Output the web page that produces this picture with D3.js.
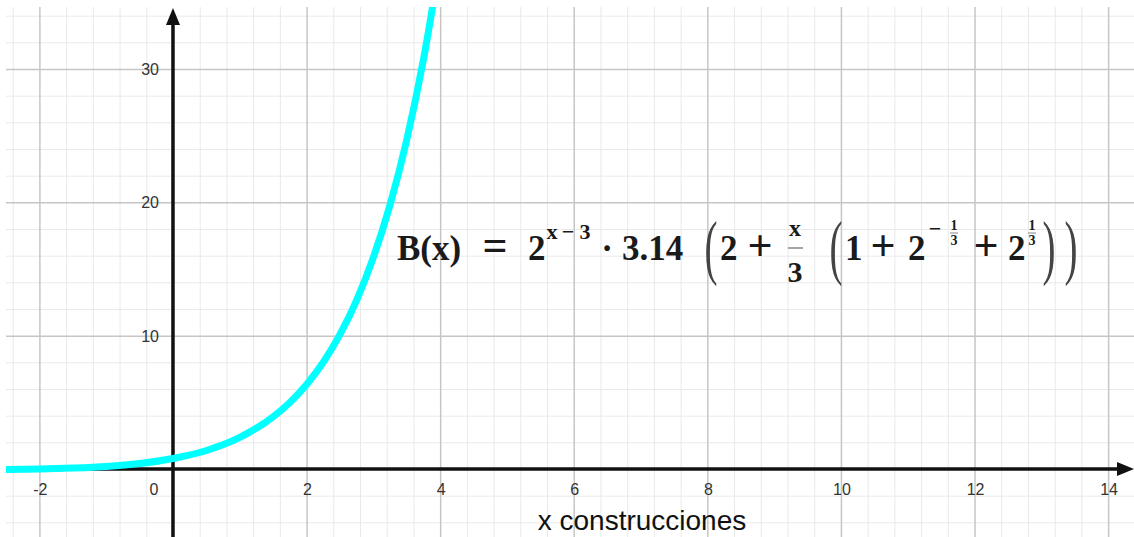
<!DOCTYPE html>
<html>
<head>
<meta charset="utf-8">
<script src="https://cdn.jsdelivr.net/npm/d3@7"></script>
<style>
  html, body { margin: 0; padding: 0; background: #ffffff; }
  svg { display: block; }
</style>
</head>
<body>
<svg id="chart" width="1134" height="537"></svg>
<script>
// ---- data ----
const curveX = [-2.6, -2, -1.5, -1, -0.5, 0, 0.5, 1, 1.5, 1.75, 2, 2.25, 2.5, 2.75, 3, 3.25, 3.5, 3.75, 4];
const curveY = [-0.04, -0.004, 0.07, 0.19, 0.41, 0.79, 1.39, 2.37, 3.92, 4.99, 6.34, 8.01, 10.09, 12.67, 15.87, 19.82, 24.70, 30.72, 38.13];
const xTickValues = [-2, 0, 2, 4, 6, 8, 10, 12, 14];
const xTickLabels = ["-2", "0", "2", "4", "6", "8", "10", "12", "14"];
const yTickValues = [10, 20, 30];
const yTickLabels = ["10", "20", "30"];
const axisTitle = "x construcciones";

const W = 1134, H = 537;
const plot = { left: 6, right: 1134, top: 7, bottom: 537 };

const x = d3.scaleLinear().domain([-2.5, 14.38]).range([6, 1133.5]);
const y = d3.scaleLinear().domain([-5.1, 34.65]).range([537, 7]);

const svg = d3.select("#chart");

svg.append("defs").append("clipPath").attr("id", "plotClip")
  .append("rect")
  .attr("x", plot.left).attr("y", plot.top)
  .attr("width", plot.right - plot.left).attr("height", plot.bottom - plot.top);

const grid = svg.append("g").attr("clip-path", "url(#plotClip)");

// minor grid
const minorX = d3.range(-7, 37).map(i => +(i * 0.4).toFixed(2)).filter(v => v % 2 !== 0);
const minorY = d3.range(-3, 18).map(i => i * 2).filter(v => v % 10 !== 0);
grid.append("g")
  .call(d3.axisBottom(x).tickValues(minorX).tickSize(-(plot.bottom - plot.top)).tickFormat(""))
  .attr("transform", `translate(0,${plot.bottom})`)
  .call(g => g.select(".domain").remove())
  .call(g => g.selectAll("line").attr("stroke", "#e9e9e9").attr("stroke-width", 1));
grid.append("g")
  .call(d3.axisLeft(y).tickValues(minorY).tickSize(-(plot.right - plot.left)).tickFormat(""))
  .attr("transform", `translate(${plot.left},0)`)
  .call(g => g.select(".domain").remove())
  .call(g => g.selectAll("line").attr("stroke", "#e9e9e9").attr("stroke-width", 1));

// major grid
grid.append("g")
  .call(d3.axisBottom(x).tickValues(xTickValues.filter(v => v !== 0)).tickSize(-(plot.bottom - plot.top)).tickFormat(""))
  .attr("transform", `translate(0,${plot.bottom})`)
  .call(g => g.select(".domain").remove())
  .call(g => g.selectAll("line").attr("stroke", "#c6c6c6").attr("stroke-width", 1.5));
grid.append("g")
  .call(d3.axisLeft(y).tickValues(yTickValues).tickSize(-(plot.right - plot.left)).tickFormat(""))
  .attr("transform", `translate(${plot.left},0)`)
  .call(g => g.select(".domain").remove())
  .call(g => g.selectAll("line").attr("stroke", "#c6c6c6").attr("stroke-width", 1.5));

// axes lines with arrows
const axisG = svg.append("g");
const x0 = x(0), y0 = y(0);
axisG.append("line").attr("x1", x0).attr("x2", x0).attr("y1", plot.bottom).attr("y2", 20)
  .attr("stroke", "#111").attr("stroke-width", 3.5);
axisG.append("path")
  .attr("d", `M${x0},8 L${x0 - 7},25 L${x0 + 7},25 Z`).attr("fill", "#111");
axisG.append("line").attr("x1", plot.left).attr("x2", 1122).attr("y1", y0).attr("y2", y0)
  .attr("stroke", "#111").attr("stroke-width", 3.5);
axisG.append("path")
  .attr("d", `M1134,${y0} L1117,${y0 - 7} L1117,${y0 + 7} Z`).attr("fill", "#111");

// tick labels
const labelFont = "'Liberation Sans', Arial, sans-serif";
svg.append("g").selectAll("text").data(xTickValues).join("text")
  .attr("x", d => d === 0 ? x(d) - 19 : x(d) + 1)
  .attr("y", y0 + 26)
  .attr("text-anchor", "middle")
  .attr("font-family", labelFont).attr("font-size", 16).attr("fill", "#333")
  .text((d, i) => xTickLabels[i]);
svg.append("g").selectAll("text").data(yTickValues).join("text")
  .attr("x", x0 - 14)
  .attr("y", d => y(d) + 6)
  .attr("text-anchor", "end")
  .attr("font-family", labelFont).attr("font-size", 16).attr("fill", "#333")
  .text((d, i) => yTickLabels[i]);

// curve
const pts = curveX.map((v, i) => [v, curveY[i]]);
svg.append("g").attr("clip-path", "url(#plotClip)")
  .append("path")
  .datum(pts)
  .attr("fill", "none")
  .attr("stroke", "#00ffff")
  .attr("stroke-width", 7)
  .attr("d", d3.line().x(d => x(d[0])).y(d => y(d[1])).curve(d3.curveMonotoneX));

// axis title
svg.append("text")
  .attr("x", 642).attr("y", 530)
  .attr("text-anchor", "middle")
  .attr("font-family", labelFont).attr("font-size", 28).attr("fill", "#111")
  .text(axisTitle);

// formula
const F = svg.append("g").attr("font-family", "'Liberation Serif', 'Times New Roman', serif")
  .attr("font-weight", "bold").attr("fill", "#1a1a1a");
function t(str, px, py, size, anchor) {
  return F.append("text").attr("x", px).attr("y", py).attr("font-size", size)
    .attr("text-anchor", anchor || "start").text(str);
}
function paren(ch, px) {
  F.append("text")
    .attr("transform", `translate(${px},271) scale(0.55,1)`)
    .attr("font-size", 71).attr("font-weight", "normal").attr("fill", "#444")
    .attr("text-anchor", "middle").text(ch);
}
t("B(x)", 397, 260, 35);
t("=", 495, 260, 44, "middle");
t("2", 528, 260, 35);
t("x", 552, 239, 22, "middle");
t("−", 568, 239, 22, "middle");
t("3", 585, 239, 22, "middle");
t("·", 607, 260, 35, "middle");
t("3.14", 622, 260, 35);
paren("(", 711);
t("2", 720, 260, 35);
t("+", 760, 260, 44, "middle");
t("x", 795, 236, 24, "middle");
F.append("line").attr("x1", 788).attr("x2", 803).attr("y1", 248).attr("y2", 248)
  .attr("stroke", "#888").attr("stroke-width", 1.5);
t("3", 795, 282, 30, "middle");
paren("(", 836);
t("1", 845, 260, 35);
t("+", 883, 260, 44, "middle");
t("2", 908, 260, 35);
t("−", 935, 236, 22, "middle");
t("1", 954, 230, 14, "middle");
F.append("line").attr("x1", 950).attr("x2", 958).attr("y1", 233).attr("y2", 233)
  .attr("stroke", "#888").attr("stroke-width", 1);
t("3", 954, 245, 14, "middle");
t("+", 986, 260, 44, "middle");
t("2", 1008, 260, 35);
t("1", 1032, 230, 14, "middle");
F.append("line").attr("x1", 1028).attr("x2", 1036).attr("y1", 233).attr("y2", 233)
  .attr("stroke", "#888").attr("stroke-width", 1);
t("3", 1032, 245, 14, "middle");
paren(")", 1049);
paren(")", 1071);
</script>
</body>
</html>
